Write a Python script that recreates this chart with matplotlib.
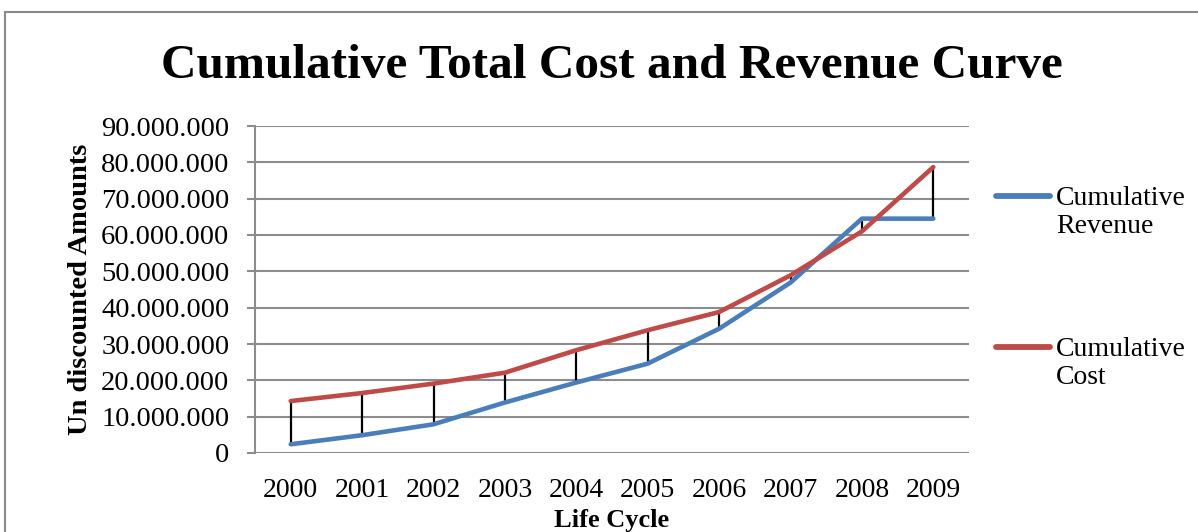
import matplotlib.pyplot as plt
from matplotlib.patches import Rectangle
from matplotlib.ticker import FuncFormatter

# -----------------------
# Data
# -----------------------
years = ["2000", "2001", "2002", "2003", "2004", "2005", "2006", "2007", "2008", "2009"]
cum_revenue = [2.4, 4.9, 7.9, 13.9, 19.4, 24.6, 34.2, 46.9, 64.5, 64.5]   # millions
cum_cost = [14.3, 16.5, 19.1, 22.1, 28.3, 33.8, 38.8, 48.9, 61.0, 78.7]  # millions

SERIF = "Liberation Serif"
BLUE = "#4A7EBB"
RED = "#BE4B48"
GRID = "#8c8c8c"
FS = 20

fig = plt.figure(figsize=(11.98, 5.32), dpi=100)
ax = fig.add_axes([255 / 1198, 1 - 453 / 532, (969 - 255) / 1198, (453 - 126) / 532])

x = range(len(years))
rev_vals = [v * 1e6 for v in cum_revenue]
cost_vals = [v * 1e6 for v in cum_cost]

# high-low lines between the two series
ax.vlines(x, rev_vals, cost_vals, colors="black", linewidth=1.6, zorder=2)
ax.plot(x, rev_vals, color=BLUE, linewidth=3.3, label="Cumulative\nRevenue",
        solid_capstyle="round", zorder=3)
ax.plot(x, cost_vals, color=RED, linewidth=3.3, label="Cumulative\nCost",
        solid_capstyle="round", zorder=3)

ax.set_xlim(-0.5, len(years) - 0.5)
ax.set_ylim(0, 90e6)
ax.set_yticks([i * 10e6 for i in range(10)])
ax.yaxis.set_major_formatter(FuncFormatter(lambda v, p: f"{int(v):,}".replace(",", ".")))
ax.set_xticks(list(x))
ax.set_xticklabels(years)

ax.grid(axis="y", color=GRID, linewidth=1.5)
ax.set_axisbelow(True)
for s in ["top", "right", "bottom"]:
    ax.spines[s].set_visible(False)
ax.spines["left"].set_color(GRID)
ax.spines["left"].set_linewidth(1.5)
ax.tick_params(axis="y", length=6, width=1.5, color=GRID, pad=12.5, labelsize=20.5)
ax.tick_params(axis="x", length=0, pad=18, labelsize=FS)
for lab in ax.get_xticklabels() + ax.get_yticklabels():
    lab.set_fontfamily(SERIF)

ax.set_xlabel("Life Cycle", fontfamily=SERIF, fontweight="bold", fontsize=19, labelpad=4)
ax.set_ylabel("Un discounted Amounts", fontfamily=SERIF, fontweight="bold", fontsize=20.5,
              labelpad=6)

fig.suptitle("Cumulative Total Cost and Revenue Curve", fontfamily=SERIF,
             fontweight="bold", fontsize=35.5, x=0.511, y=1 - 66 / 532, va="center")

leg = ax.legend(loc="center left", bbox_to_anchor=(996 / 1198, 1 - 288 / 532),
                bbox_transform=fig.transFigure, frameon=False, handlelength=1.95,
                handletextpad=0.22, labelspacing=3.5, borderpad=0, borderaxespad=0,
                prop={"family": SERIF, "size": FS})
# put each legend line level with the first text line, as in the original
for h in leg.legend_handles:
    h.set_ydata([y + 12 for y in h.get_ydata()])
    h.set_linewidth(4.2)

# chart outer border
fig.add_artist(Rectangle((5 / 1198, -0.1), 1.2, 1 - 12 / 532 + 0.1,
                         transform=fig.transFigure, fill=False,
                         edgecolor="#8a8a8a", linewidth=1.5))

plt.savefig("out.png", dpi=100)
